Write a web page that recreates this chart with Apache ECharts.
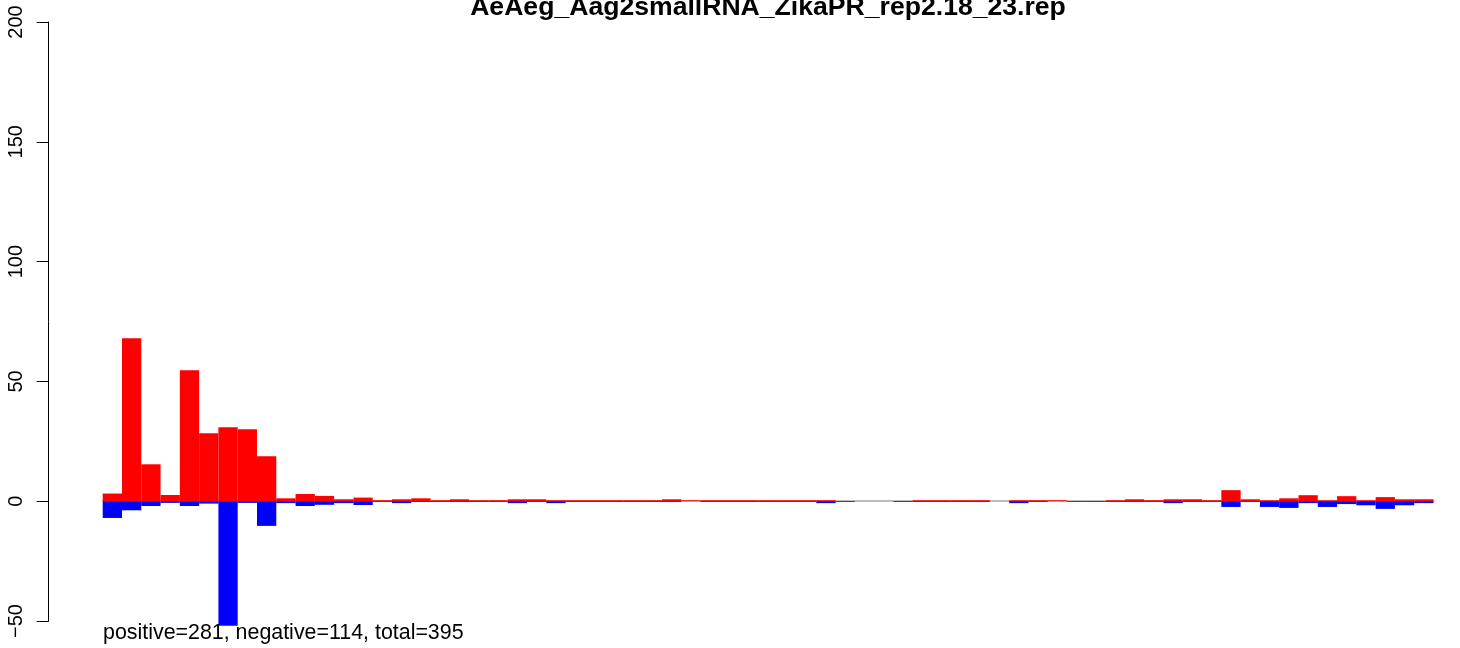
<!DOCTYPE html>
<html>
<head>
<meta charset="utf-8">
<script src="https://cdn.jsdelivr.net/npm/echarts@6/dist/echarts.min.js"></script>
<style>
html,body{margin:0;padding:0;background:#fff;}
#chart{width:1460px;height:648px;}
</style>
</head>
<body>
<div id="chart"></div>
<script>
var titleText = 'AeAeg_Aag2smallRNA_ZikaPR_rep2.18_23.rep';
var footText = 'positive=281, negative=114, total=395';
var yTicks = [-50, 0, 50, 100, 150, 200];
var bins = [];
for (var i = 1; i <= 69; i++) bins.push(String(i));
var positive = [3.2, 68, 15.4, 2.6, 54.7, 28.4, 30.9, 30, 18.8, 1.2,
  3, 2.2, 0.8, 1.5, 0.4, 0.8, 1.2, 0.4, 0.8, 0.4,
  0.4, 0.8, 0.8, 0.4, 0.4, 0.4, 0.4, 0.4, 0.4, 0.8,
  0.4, 0.4, 0.4, 0.4, 0.4, 0.4, 0.4, 0.4, 0, 0,
  0, 0, 0.4, 0.4, 0.4, 0.4, 0, 0.4, 0.4, 0.4,
  0, 0, 0.4, 0.8, 0.4, 0.8, 0.8, 0.4, 4.6, 0.8,
  0.4, 1.2, 2.5, 0.4, 2.1, 0.4, 1.7, 0.8, 0.8];
var negative = [-7, -3.8, -2, -0.7, -2, -1, -52, -0.7, -10.3, -0.8,
  -2, -1.5, -0.8, -1.6, -0.3, -0.8, -0.3, -0.3, -0.3, -0.3,
  -0.3, -0.8, -0.3, -0.8, -0.3, -0.3, -0.3, -0.3, -0.3, -0.3,
  0, -0.3, -0.3, -0.3, -0.3, -0.3, -0.3, -0.8, -0.3, 0,
  0, -0.3, -0.3, -0.3, -0.3, -0.3, 0, -0.8, -0.3, 0,
  -0.3, -0.3, -0.3, -0.3, -0.3, -0.8, -0.3, -0.3, -2.4, -0.3,
  -2.4, -2.8, -0.8, -2.4, -1.2, -1.7, -3.2, -1.7, -0.8];

var chart = echarts.init(document.getElementById('chart'), null, {renderer: 'canvas'});
var FONT = '"Liberation Sans", Arial, Helvetica, sans-serif';
chart.setOption({
  animation: false,
  backgroundColor: '#ffffff',
  title: [{
    text: titleText,
    left: 768,
    textAlign: 'center',
    top: -6,
    padding: 0,
    textStyle: {fontFamily: FONT, fontSize: 26.6, fontWeight: 'bold', color: '#000'}
  }, {
    text: footText,
    left: 103,
    top: 623,
    padding: 0,
    textStyle: {fontFamily: FONT, fontSize: 21.4, fontWeight: 'normal', color: '#000'}
  }],
  grid: {left: 102.7, right: 26.5, top: 22, bottom: 27, containLabel: false},
  xAxis: {
    type: 'category',
    data: bins,
    boundaryGap: true,
    axisLine: {show: true, onZero: true, lineStyle: {color: '#a6a6a6', width: 1.6}},
    axisTick: {show: false},
    axisLabel: {show: false},
    splitLine: {show: false}
  },
  yAxis: {
    type: 'value',
    min: -50,
    max: 200,
    interval: 50,
    offset: 54,
    axisLine: {show: true, lineStyle: {color: '#000', width: 1}},
    axisTick: {show: true, length: 12, lineStyle: {color: '#000', width: 1}},
    axisLabel: {
      rotate: 90, margin: 22, fontFamily: FONT, fontSize: 20, color: '#000',
      formatter: function (v) { return yTicks.indexOf(v) >= 0 ? (v < 0 ? '\u2212' + (-v) : String(v)) : ''; }
    },
    splitLine: {show: false}
  },
  series: [{
    name: 'positive', type: 'bar', data: positive,
    barWidth: '100%', barGap: '-100%', clip: false,
    itemStyle: {color: '#ff0000'}
  }, {
    name: 'negative', type: 'bar', data: negative,
    barWidth: '100%', barGap: '-100%', clip: false,
    itemStyle: {color: '#0000ff'}
  }]
});
</script>
</body>
</html>
